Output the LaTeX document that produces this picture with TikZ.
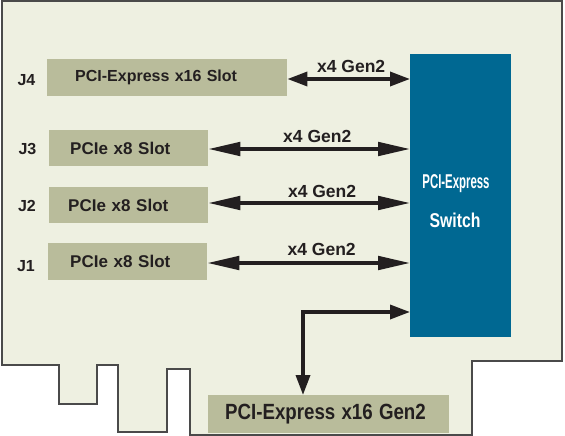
\documentclass[tikz,border=0pt]{standalone}
\usepackage{fontspec}
\usepackage{graphicx}
\setmainfont{Liberation Sans}
\usetikzlibrary{arrows.meta}
\definecolor{boardc}{HTML}{EEF0E1}
\definecolor{edgec}{HTML}{4A4A4A}
\definecolor{slotc}{HTML}{B9BC9B}
\definecolor{swc}{HTML}{006892}
\definecolor{ink}{HTML}{231F20}
\begin{document}
\begin{tikzpicture}[x=1pt,y=-1pt,
  slot/.style={fill=slotc, draw=none, anchor=north west, align=left, inner ysep=0pt,
    font=\bfseries\fontsize{17}{17}\selectfont, text=ink},
  jlab/.style={font=\bfseries\fontsize{16}{16}\selectfont, text=ink, inner sep=0pt},
  lbl/.style={font=\bfseries\fontsize{17.5}{17.5}\selectfont, text=ink, inner sep=0pt, yshift=13pt},
  swtext/.style={font=\bfseries\fontsize{20}{20}\selectfont, text=white, inner sep=0pt},
  conn/.style={draw=ink, line width=3.5pt},
  tipS/.tip={Triangle[length=20pt,width=14pt]},
  tipL/.tip={Triangle[length=32pt,width=13.5pt]}
]
\fill[white] (0,0) rectangle (565,436);
\useasboundingbox (0,0) rectangle (565,436);
% board outline
\draw[draw=edgec, line width=1.3pt, fill=boardc]
  (2,1) -- (562,1) -- (562,361) -- (472,361) -- (472,435) -- (190,435) -- (190,369)
  -- (167,369) -- (167,432) -- (118,432) -- (118,365) -- (97,365) -- (97,404)
  -- (59,404) -- (59,365) -- (2,365) -- cycle;
% slots
\node[slot, inner xsep=28pt, text width=184pt, minimum height=37pt, font=\bfseries\fontsize{16}{16}\selectfont] (j4) at (47,59) {PCI-Express x16 Slot};
\node[slot, inner xsep=21pt, text width=117pt, minimum height=36pt] (j3) at (49,130) {PCIe x8 Slot};
\node[slot, inner xsep=19pt, text width=121pt, minimum height=36pt] (j2) at (49,187) {PCIe x8 Slot};
\node[slot, inner xsep=22pt, text width=115pt, minimum height=37pt] (j1) at (48,243) {PCIe x8 Slot};
\node[slot, inner xsep=17pt, text width=207pt, minimum height=38pt, font=\bfseries\fontsize{22}{22}\selectfont] (bot) at (208,395) {\scalebox{0.85}[1]{PCI-Express x16 Gen2}};
% J labels
\node[jlab] (l4) at (26.5,80) {J4};
\node[jlab] (l3) at (27.5,149) {J3};
\node[jlab] (l2) at (27,206) {J2};
\node[jlab] (l1) at (26,266) {J1};
% switch
\node[fill=swc, anchor=north west, minimum width=101pt, minimum height=283pt, inner sep=0pt] (sw) at (410,54) {};
\node[swtext] (swt1) at (456,184) {\scalebox{0.57}[1]{PCI-Express}};
\node[swtext] (swt2) at (455,220) {\scalebox{0.79}[1]{Switch}};
% connectors
\draw[conn, tipS-tipS] (j4.east |- 0,79) -- node[lbl, pos=0.52] {x4 Gen2} (sw.west |- 0,79);
\draw[conn, tipL-tipL] (j3.east |- 0,149) -- node[lbl, pos=0.54] {x4 Gen2} (sw.west |- 0,149);
\draw[conn, tipL-tipL] (j2.east |- 0,203) -- node[lbl, pos=0.564, yshift=-1pt] {x4 Gen2} (sw.west |- 0,203);
\draw[conn, tipL-tipL] (j1.east |- 0,263) -- node[lbl, pos=0.564, yshift=1pt] {x4 Gen2} (sw.west |- 0,263);
\draw[conn, tipS-tipS] (sw.west |- 0,312) -| (bot.north -| 303,0);
\end{tikzpicture}
\end{document}
